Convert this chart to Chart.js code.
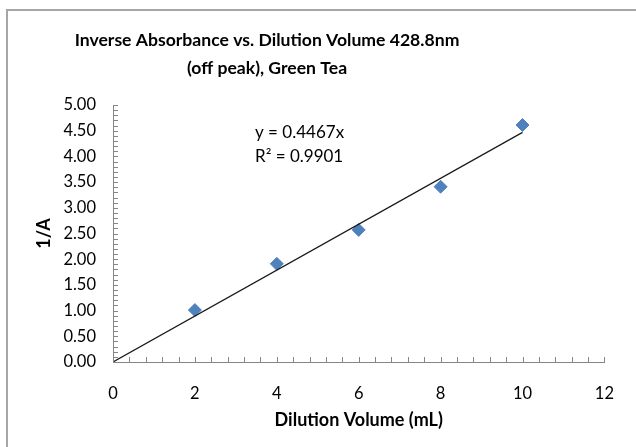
<!DOCTYPE html>
<html>
<head>
<meta charset="utf-8">
<script src="https://cdn.jsdelivr.net/npm/chart.js@4"></script>
<style>
  html, body { margin: 0; padding: 0; background: #fff; overflow: hidden; }
  canvas { display: block; }
</style>
</head>
<body>
<canvas id="chart" width="636" height="447"></canvas>
<script>
// values
const dilutionVolume = [2, 4, 6, 8, 10];
const inverseAbs = [1.01, 1.91, 2.57, 3.41, 4.61];

// trendline y = 0.4467x, drawn over 0..10
const trendX = [0, 10];
const trendY = [0, 4.467];

const titleLines = ["Inverse Absorbance vs. Dilution Volume 428.8nm", "(off peak), Green Tea"];
const equationLines = ["y = 0.4467x", "R² = 0.9901"];

const FONT = "Lato, 'Open Sans', sans-serif";

// frame, title, equation text and the small inside ticks
const decorations = {
  id: "decorations",
  beforeDraw(chart) {
    const ctx = chart.ctx;
    ctx.save();
    ctx.strokeStyle = "#a6a6a6";
    ctx.lineWidth = 2;
    ctx.strokeRect(7, 10, 700, 500);
    ctx.restore();
  },
  afterDraw(chart) {
    const ctx = chart.ctx;
    const x = chart.scales.x;
    const y = chart.scales.y;
    const area = chart.chartArea;

    ctx.save();
    ctx.strokeStyle = "#868686";
    ctx.lineWidth = 1;
    ctx.beginPath();
    for (let i = 0; i <= 50; i++) {
      const py = Math.round(y.getPixelForValue(i / 10)) + 0.5;
      ctx.moveTo(area.left, py);
      ctx.lineTo(area.left + 5, py);
    }
    for (let i = 0; i <= 30; i++) {
      const px = Math.round(x.getPixelForValue(i * 0.4)) + 0.5;
      ctx.moveTo(px, area.bottom);
      ctx.lineTo(px, area.bottom - 5);
    }
    ctx.stroke();

    ctx.fillStyle = "#000";
    ctx.textAlign = "center";
    ctx.textBaseline = "middle";
    ctx.font = "bold 17.6px " + FONT;
    ctx.fillText(titleLines[0], 267, 40);
    ctx.fillText(titleLines[1], 267, 68);

    ctx.textAlign = "left";
    ctx.font = "17px " + FONT;
    ctx.fillText(equationLines[0], 255, 133);
    ctx.fillText(equationLines[1], 255, 157);
    ctx.restore();
  }
};

new Chart(document.getElementById("chart"), {
  type: "scatter",
  data: {
    datasets: [
      {
        type: "line",
        label: "Linear trend",
        data: trendX.map((v, i) => ({ x: v, y: trendY[i] })),
        borderColor: "#1a1a1a",
        borderWidth: 1.2,
        pointRadius: 0,
        fill: false,
        order: 0
      },
      {
        label: "1/A",
        data: dilutionVolume.map((v, i) => ({ x: v, y: inverseAbs[i] })),
        pointStyle: "rectRot",
        pointRadius: 6.5,
        backgroundColor: "#4F81BD",
        borderColor: "#4F81BD",
        borderWidth: 1,
        showLine: false,
        order: 1
      }
    ]
  },
  options: {
    responsive: false,
    animation: false,
    layout: { padding: { top: 105, right: 27, left: 30, bottom: 0 } },
    plugins: {
      legend: { display: false },
      title: { display: false },
      tooltip: { enabled: false }
    },
    scales: {
      x: {
        type: "linear",
        min: 0,
        max: 12,
        ticks: { stepSize: 2, padding: 22, color: "#000", font: { family: FONT, size: 16.5 } },
        grid: { drawOnChartArea: false, drawTicks: false },
        border: { color: "#868686", width: 1 },
        title: {
          display: true,
          text: "Dilution Volume (mL)",
          color: "#000",
          font: { family: FONT, size: 18, weight: "bold" },
          padding: { top: 0, bottom: 16 }
        },
        afterFit(scale) { scale.height = 85; }
      },
      y: {
        min: 0,
        max: 5,
        ticks: {
          stepSize: 0.5,
          padding: 17,
          color: "#000",
          font: { family: FONT, size: 16.5 },
          callback: (v) => v.toFixed(2)
        },
        grid: { drawOnChartArea: false, drawTicks: false },
        border: { color: "#868686", width: 1 },
        title: {
          display: true,
          text: "1/A",
          color: "#000",
          font: { family: FONT, size: 18, weight: "bold" },
          padding: { top: 3, bottom: 0 }
        },
        afterFit(scale) { scale.width = 83; }
      }
    }
  },
  plugins: [decorations]
});
</script>
</body>
</html>
